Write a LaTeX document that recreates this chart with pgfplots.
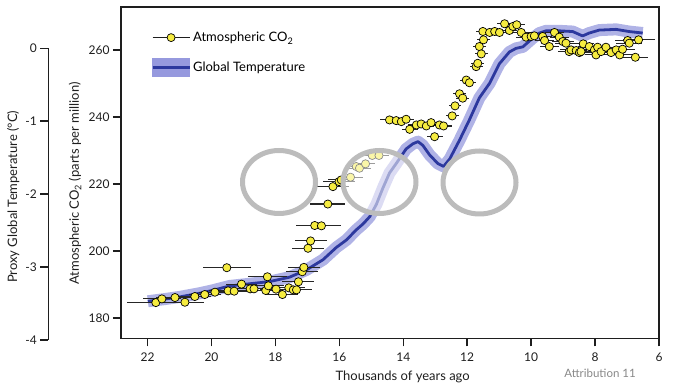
\documentclass[border=0pt]{standalone}
\usepackage{pgfplots}
\pgfplotsset{compat=1.18}
\usepackage{pgfplotstable}
\usepackage{fontspec}
\setmainfont{Lato}
\definecolor{band}{RGB}{150,153,222}
\definecolor{tline}{RGB}{44,56,158}
\definecolor{co2y}{RGB}{246,236,64}
\definecolor{ringgray}{RGB}{188,188,188}
\definecolor{attrgray}{RGB}{135,135,135}
\definecolor{axcol}{RGB}{30,30,30}

\pgfplotstableread{
age co2 ex
21.74 184.6 0.9
21.55 185.7 0.6
21.14 186.1 0.6
20.83 184.7 0.6
20.52 186.4 0.5
20.21 187.0 0.5
19.89 187.7 0.5
19.52 195.0 0.75
19.48 188.1 0.6
19.29 188.0 0.5
19.06 190.1 0.5
18.79 188.7 0.5
18.67 188.7 0.5
18.30 188.2 0.5
18.25 192.3 0.6
18.22 189.6 0.5
17.98 188.6 0.5
17.78 187.0 0.5
17.58 189.0 0.5
17.44 188.4 0.5
17.34 188.4 0.5
17.28 190.8 0.5
17.16 193.8 0.5
17.11 195.1 0.5
16.98 200.8 0.5
16.90 203.0 0.5
16.77 207.6 0.6
16.56 207.5 0.6
16.36 214.0 0.55
16.20 219.2 0.5
16.01 220.7 0.5
15.94 221.2 0.4
15.65 222.0 0.4
15.47 225.2 0.35
15.37 224.7 0.35
15.18 226.0 0.3
14.97 228.5 0.3
14.76 228.5 0.3
14.43 239.1 0.3
14.22 238.9 0.25
14.06 238.6 0.25
13.91 239.3 0.25
13.80 236.3 0.25
13.59 237.6 0.25
13.44 237.9 0.25
13.28 237.3 0.25
13.13 238.3 0.25
13.02 234.1 0.25
12.87 237.6 0.25
12.74 237.3 0.25
12.47 240.3 0.2
12.38 243.3 0.2
12.24 246.9 0.2
12.14 245.6 0.2
12.03 251.0 0.2
11.93 250.2 0.2
11.72 255.0 0.2
11.67 256.0 0.2
11.62 261.0 0.2
11.56 258.8 0.2
11.49 263.0 0.2
11.51 265.5 0.2
11.30 265.2 0.25
11.14 265.5 0.25
10.99 265.2 0.25
10.83 267.8 0.25
10.68 265.8 0.25
10.57 267.0 0.25
10.45 267.5 0.25
10.31 265.2 0.3
10.16 263.8 0.3
10.00 264.0 0.3
9.90 264.2 0.3
9.64 264.0 0.3
9.58 262.8 0.3
9.43 261.0 0.3
9.27 265.2 0.3
9.12 263.8 0.3
9.01 262.5 0.35
8.91 262.0 0.35
8.81 259.5 0.35
8.75 260.0 0.35
8.59 259.8 0.35
8.49 259.2 0.35
8.44 259.5 0.35
8.37 261.8 0.35
8.18 261.0 0.35
8.02 260.0 0.35
7.97 258.5 0.35
7.92 260.8 0.35
7.81 259.5 0.35
7.66 260.8 0.35
7.50 259.2 0.35
7.34 260.0 0.35
7.23 258.5 0.4
7.14 260.2 0.4
6.98 262.8 0.4
6.93 262.0 0.4
6.74 257.8 0.4
6.64 263.0 0.5
}\cotwo

\pgfplotstableread{
age t
21.99 -3.47
21.46 -3.44
20.99 -3.41
20.37 -3.36
19.96 -3.32
19.43 -3.26
18.81 -3.23
18.18 -3.20
17.56 -3.14
17.03 -3.04
16.51 -2.90
16.09 -2.73
15.78 -2.63
15.47 -2.49
15.26 -2.41
15.05 -2.31
14.84 -2.14
14.64 -1.92
14.43 -1.71
14.22 -1.58
13.91 -1.38
13.70 -1.31
13.54 -1.28
13.39 -1.33
13.18 -1.46
12.92 -1.58
12.74 -1.62
12.55 -1.52
12.24 -1.26
11.93 -0.98
11.62 -0.68
11.30 -0.48
10.99 -0.21
10.68 -0.05
10.47 0.00
10.26 0.02
9.95 0.14
9.74 0.21
9.53 0.24
9.12 0.24
8.70 0.23
8.39 0.17
8.18 0.21
7.87 0.25
7.34 0.26
6.93 0.23
6.51 0.21
}\temp

\begin{document}
\begin{tikzpicture}
\path[use as bounding box] (0pt,0pt) rectangle (700pt,387pt);

% temperature series (own scale, same box)
\begin{axis}[at={(121pt,48.7pt)}, anchor=south west, scale only axis,
  width=538pt, height=331.3pt, x dir=reverse,
  xmin=6, xmax=22.83, ymin=-3.978, ymax=0.567, hide axis]
\addplot[band, line width=12pt, line join=round, line cap=butt, opacity=0.75] table[x=age,y=t]{\temp};
\addplot[tline, line width=2.8pt, line join=round] table[x=age,y=t]{\temp};
\end{axis}

% CO2 main axis
\begin{axis}[at={(121pt,48.7pt)}, anchor=south west, scale only axis,
  width=538pt, height=331.3pt, x dir=reverse,
  xmin=6, xmax=22.83, ymin=173.94, ymax=272.8,
  xtick={6,8,10,12,14,16,18,20,22}, ytick={180,200,220,240,260},
  xtick pos=bottom, ytick pos=left, tick align=outside,
  major tick length=8pt,
  axis line style={line width=1.5pt, axcol},
  major tick style={line width=1.5pt, axcol},
  /pgf/number format/assume math mode=true,
  tick label style={font=\fontsize{12}{14}\selectfont, text=axcol},
  xticklabel style={yshift=-3pt},
  label style={font=\fontsize{13}{15}\selectfont, text=axcol},
  xlabel={Thousands of years ago},
  xlabel style={at={(axis description cs:0.5236,-0.116)}, anchor=center},
  ylabel={Atmospheric CO\textsubscript{2} (parts per million)},
  ylabel style={at={(axis description cs:-0.0855,0.467)}, anchor=center},
  legend style={at={(axis description cs:0.05,0.937)}, anchor=north west,
    draw=none, fill=none, font=\fontsize{13}{15}\selectfont, row sep=13pt},
  legend cell align=left]
\addlegendimage{legend image code/.code={
  \draw[axcol,line width=1.2pt] (0pt,0pt) -- (37pt,0pt);
  \draw[black, line width=0.7pt, fill=co2y] (18.5pt,0pt) circle (4pt);}}
\addlegendentry{Atmospheric CO\textsubscript{2}}
\addlegendimage{legend image code/.code={
  \fill[band] (0pt,-9pt) rectangle (37pt,9pt);
  \draw[tline, line width=3pt] (0pt,0pt) -- (37pt,0pt);}}
\addlegendentry{Global Temperature}
\addplot[draw=none, mark=none, forget plot,
  error bars/.cd, x dir=both, x explicit, error mark=none,
  error bar style={line width=1.1pt, black!85}]
  table[x=age, y=co2, x error=ex]{\cotwo};
\addplot[only marks, mark=*, mark size=4.1pt, forget plot,
  mark options={fill=co2y, draw=black, line width=0.7pt}]
  table[x=age, y=co2]{\cotwo};
\end{axis}

% temperature scale axis
\begin{axis}[at={(48.3pt,47pt)}, anchor=south west, scale only axis,
  width=30pt, height=291.7pt, xmin=0, xmax=1, ymin=-4, ymax=0,
  axis y line=left, axis x line=none, xtick=\empty,
  ytick={-4,-3,-2,-1,0}, tick align=outside, major tick length=8pt,
  axis line style={-, line width=1.5pt, axcol},
  major tick style={line width=1.5pt, axcol},
  /pgf/number format/assume math mode=true,
  tick label style={font=\fontsize{12}{14}\selectfont, text=axcol},
  ylabel={Proxy Global Temperature (°C)},
  ylabel style={font=\fontsize{13}{15}\selectfont, text=axcol,
    at={(axis description cs:-1.167,0.491)}, anchor=center}]
\end{axis}

% annotation rings
\draw[line width=5pt, draw=ringgray, fill=white, fill opacity=0.55] (279pt,205pt) ellipse (36.5pt and 31.5pt);
\draw[line width=5pt, draw=ringgray, fill=white, fill opacity=0.55] (379.5pt,205pt) ellipse (36.5pt and 31.5pt);
\draw[line width=5pt, draw=ringgray, fill=white, fill opacity=0.55] (479.5pt,204.5pt) ellipse (36.5pt and 31.5pt);

\node[text=attrgray, font=\fontsize{11.5}{13}\selectfont] at (600pt,14pt) {Attribution 11};
\end{tikzpicture}
\end{document}
